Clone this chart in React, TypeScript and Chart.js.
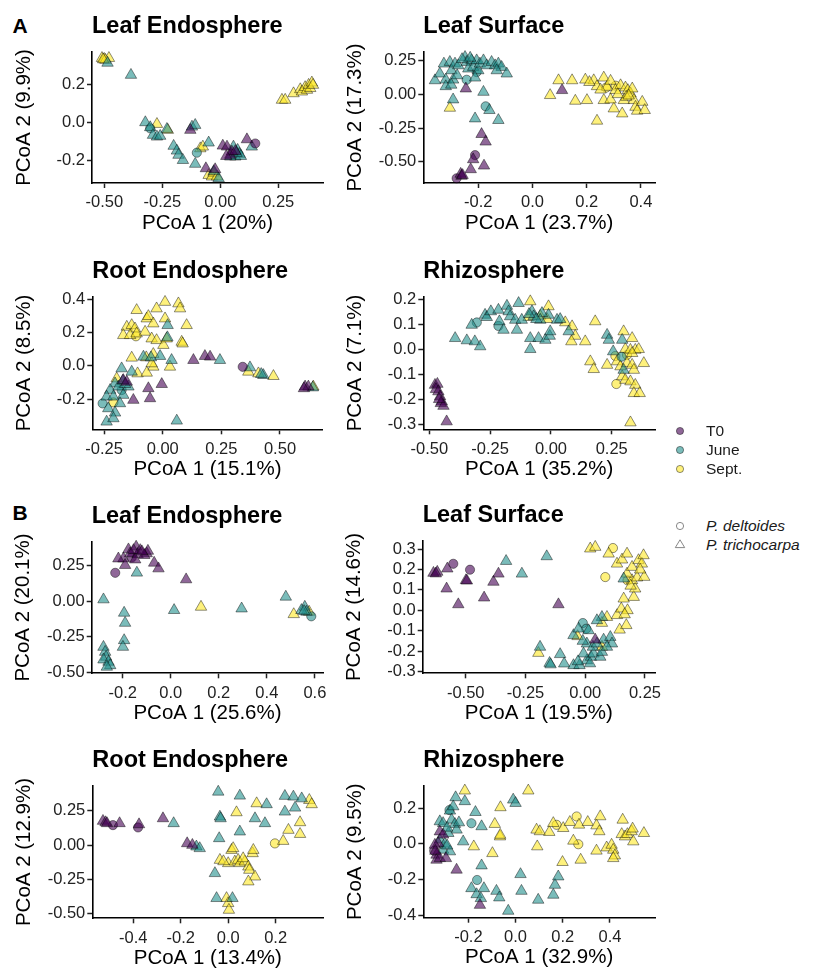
import React, { useEffect, useRef } from "react";
import { Chart, registerables } from "chart.js";

Chart.register(...registerables);

type Pt = [number, number];

// ---------- Group / shape labels ----------
const timeGroups = ["T0", "June", "Sept."];
const speciesGroups = ["P. deltoides", "P. trichocarpa"];

// ---------- A: Leaf Endosphere ----------
const aLE_T0_tri: Pt[] = [[-0.129,-0.04],[-0.062,-0.24],[-0.022,-0.245],[0.011,-0.122],[0.029,-0.127],[0.043,-0.17],[0.05,-0.153],[0.115,-0.089],[0.026,-0.176],[0.065,-0.15]];
const aLE_T0_cir: Pt[] = [[0.151,-0.11]];
const aLE_June_tri: Pt[] = [[-0.486,0.31],[-0.385,0.247],[-0.323,0.0],[-0.302,-0.026],[-0.29,-0.066],[-0.273,-0.075],[-0.259,-0.071],[-0.23,-0.035],[-0.122,-0.023],[-0.108,-0.014],[-0.201,-0.123],[-0.187,-0.148],[-0.18,-0.17],[-0.161,-0.197],[-0.05,-0.106],[-0.108,-0.217],[-0.007,-0.292],[0.057,-0.127],[0.075,-0.144],[0.083,-0.165],[0.065,-0.179],[0.043,-0.179],[0.136,-0.127],[0.089,-0.176],[0.07,-0.16],[-0.028,-0.255]];
const aLE_June_cir: Pt[] = [[-0.302,-0.031],[-0.101,-0.158]];
const aLE_Sept_tri: Pt[] = [[-0.51,0.335],[-0.5,0.33],[-0.48,0.335],[-0.495,0.325],[-0.505,0.328],[0.266,0.117],[0.28,0.117],[0.316,0.151],[0.345,0.172],[0.352,0.16],[0.366,0.183],[0.374,0.169],[0.381,0.195],[0.388,0.178],[0.395,0.207],[0.4,0.195],[-0.273,-0.009],[-0.226,-0.04],[-0.086,-0.136],[-0.075,-0.127],[-0.05,-0.275],[-0.036,-0.283],[-0.029,-0.263],[-0.014,-0.283]];
const aLE_Sept_cir: Pt[] = [];

// ---------- A: Leaf Surface ----------
const aLS_T0_tri: Pt[] = [[-0.246,0.042],[0.109,0.03],[-0.188,-0.296],[-0.173,-0.352],[-0.219,-0.483],[-0.228,-0.557],[-0.179,-0.53],[-0.265,-0.591],[-0.262,-0.606],[-0.258,-0.6]];
const aLS_T0_cir: Pt[] = [[-0.212,-0.451],[-0.28,-0.623]];
const aLS_June_tri: Pt[] = [[-0.36,0.103],[-0.342,0.153],[-0.327,0.227],[-0.32,0.108],[-0.305,0.239],[-0.299,0.177],[-0.293,0.108],[-0.286,0.227],[-0.32,0.059],[-0.278,0.14],[-0.274,0.214],[-0.249,0.276],[-0.243,0.239],[-0.237,0.19],[-0.225,0.251],[-0.219,0.202],[-0.206,0.251],[-0.2,0.177],[-0.194,0.227],[-0.181,0.251],[-0.169,0.214],[-0.151,0.239],[-0.138,0.214],[-0.126,0.227],[-0.114,0.202],[-0.095,0.153],[-0.212,0.123],[-0.132,0.177],[-0.181,0.017],[-0.293,-0.039],[-0.159,-0.118],[-0.212,-0.18],[-0.126,-0.192],[-0.3,0.07],[-0.26,0.26],[-0.23,0.27]];
const aLS_June_cir: Pt[] = [[-0.243,0.108],[-0.206,0.165],[-0.173,-0.089]];
const aLS_Sept_tri: Pt[] = [[-0.305,-0.101],[0.065,-0.007],[0.096,0.103],[0.146,0.103],[0.158,-0.049],[0.195,0.108],[0.201,-0.044],[0.226,0.103],[0.238,0.059],[0.238,-0.197],[0.263,0.123],[0.263,-0.044],[0.275,0.054],[0.288,0.099],[0.3,-0.106],[0.306,0.03],[0.325,0.066],[0.331,-0.143],[0.337,-0.044],[0.343,0.049],[0.352,0.03],[0.362,0.005],[0.368,0.042],[0.374,-0.044],[0.38,-0.094],[0.386,-0.123],[0.405,-0.057],[0.414,-0.118],[0.346,-0.02],[0.288,-0.039],[0.251,0.034],[0.21,0.09],[0.315,0.0],[0.355,-0.01]];
const aLS_Sept_cir: Pt[] = [[0.272,0.05],[0.307,0.064]];

// ---------- A: Root Endosphere ----------
const aRE_T0_tri: Pt[] = [[0.131,0.034],[0.18,0.058],[0.202,0.054],[0.607,-0.125],[0.621,-0.125],[0.602,-0.135],[-0.061,-0.135],[-0.054,-0.195],[-0.004,-0.11],[-0.125,-0.205],[-0.168,-0.086],[-0.153,-0.096]];
const aRE_T0_cir: Pt[] = [[0.341,-0.006]];
const aRE_June_tri: Pt[] = [[0.021,0.243],[-0.082,0.054],[-0.011,0.058],[0.038,0.034],[0.244,0.034],[0.372,-0.01],[0.429,-0.056],[0.42,-0.05],[-0.175,-0.016],[-0.132,-0.036],[-0.203,-0.106],[-0.189,-0.125],[-0.224,-0.145],[-0.239,-0.185],[-0.21,-0.185],[-0.232,-0.255],[-0.203,-0.281],[-0.239,-0.335],[-0.21,-0.315],[-0.168,-0.175],[0.06,-0.329],[-0.146,-0.125],[-0.182,-0.225],[-0.16,-0.11],[0.02,0.17],[-0.05,0.05],[0.64,-0.13],[-0.17,-0.09]];
const aRE_June_cir: Pt[] = [[-0.256,-0.225],[-0.175,-0.145]];
const aRE_Sept_tri: Pt[] = [[-0.111,0.333],[-0.068,0.283],[-0.061,0.297],[-0.026,0.343],[0.01,0.382],[0.067,0.373],[0.074,0.343],[0.01,0.283],[-0.04,0.253],[-0.153,0.233],[-0.132,0.243],[-0.118,0.223],[-0.168,0.183],[-0.139,0.183],[-0.111,0.193],[-0.075,0.203],[-0.047,0.163],[-0.026,0.153],[0.003,0.124],[0.017,0.163],[0.081,0.143],[0.102,0.243],[0.085,0.133],[-0.132,0.048],[-0.04,0.07],[-0.07,0.05],[-0.04,-0.006],[0.031,-0.006],[-0.047,0.014],[0.365,-0.036],[0.408,-0.046],[0.472,-0.062],[0.642,-0.125],[-0.196,-0.076],[-0.107,-0.046],[-0.068,-0.042]];
const aRE_Sept_cir: Pt[] = [[-0.114,0.177],[-0.21,-0.219]];

// ---------- A: Rhizosphere ----------
const aRH_T0_tri: Pt[] = [[-0.477,-0.143],[-0.467,-0.139],[-0.473,-0.16],[-0.463,-0.169],[-0.456,-0.189],[-0.449,-0.209],[-0.453,-0.216],[-0.442,-0.227],[-0.429,-0.289],[-0.46,-0.2]];
const aRH_T0_cir: Pt[] = [];
const aRH_June_tri: Pt[] = [[-0.394,0.044],[-0.346,0.035],[-0.326,0.097],[-0.313,0.031],[-0.291,0.011],[-0.271,0.137],[-0.264,0.128],[-0.247,0.151],[-0.216,0.157],[-0.212,0.111],[-0.195,0.077],[-0.181,0.173],[-0.174,0.151],[-0.168,0.131],[-0.147,0.117],[-0.14,0.077],[-0.133,0.184],[-0.12,0.117],[-0.085,0.044],[-0.085,0.0],[-0.051,0.044],[-0.023,0.037],[-0.005,0.053],[-0.003,0.071],[-0.01,0.137],[-0.037,0.144],[-0.078,0.151],[-0.071,0.131],[-0.044,0.117],[0.025,0.117],[0.038,0.12],[0.073,0.071],[0.231,0.057],[0.238,0.037],[0.256,-0.009],[0.293,0.037],[0.299,-0.083],[-0.06,0.12],[-0.09,0.14]];
const aRH_June_cir: Pt[] = [[-0.305,0.107],[-0.216,0.093],[0.29,-0.03]];
const aRH_Sept_tri: Pt[] = [[-0.085,0.191],[-0.092,0.128],[-0.044,0.133],[-0.01,0.171],[-0.016,0.12],[0.059,0.107],[0.087,0.091],[0.1,0.053],[0.084,0.031],[0.141,0.031],[0.182,0.111],[0.162,-0.049],[0.176,-0.08],[0.231,-0.063],[0.299,0.071],[0.334,0.044],[0.306,0.0],[0.327,-0.003],[0.347,-0.003],[0.361,0.0],[0.334,-0.016],[0.272,-0.049],[0.286,-0.069],[0.313,-0.056],[0.334,-0.063],[0.341,-0.083],[0.382,-0.056],[0.293,-0.109],[0.306,-0.123],[0.327,-0.129],[0.347,-0.143],[0.341,-0.176],[0.365,-0.176],[0.327,-0.293]];
const aRH_Sept_cir: Pt[] = [[0.265,-0.027],[0.313,-0.023],[0.269,-0.139]];

// ---------- B: Leaf Endosphere ----------
const bLE_T0_tri: Pt[] = [[-0.197,0.3],[-0.176,0.364],[-0.169,0.336],[-0.19,0.254],[-0.144,0.383],[-0.138,0.331],[-0.127,0.359],[-0.1,0.336],[-0.095,0.354],[-0.11,0.324],[-0.148,0.293],[-0.069,0.27],[-0.051,0.23],[0.064,0.153],[-0.218,0.3],[-0.155,0.359],[-0.12,0.35]];
const bLE_T0_cir: Pt[] = [[-0.231,0.2],[-0.162,0.308]];
const bLE_June_tri: Pt[] = [[-0.141,0.2],[-0.28,0.012],[-0.194,-0.082],[-0.19,-0.153],[-0.194,-0.275],[-0.199,-0.322],[-0.28,-0.322],[-0.273,-0.357],[-0.269,-0.392],[-0.28,-0.411],[-0.259,-0.427],[-0.252,-0.451],[-0.266,-0.462],[0.014,-0.063],[0.295,-0.052],[0.479,0.031],[0.558,-0.04],[0.565,-0.075],[0.544,-0.063],[0.555,-0.07]];
const bLE_June_cir: Pt[] = [[0.585,-0.106]];
const bLE_Sept_tri: Pt[] = [[0.126,-0.04],[0.512,-0.092],[0.576,-0.075]];
const bLE_Sept_cir: Pt[] = [];

// ---------- B: Leaf Surface ----------
const bLS_T0_tri: Pt[] = [[-0.635,0.183],[-0.619,0.188],[-0.625,0.18],[-0.577,0.204],[-0.58,0.106],[-0.499,0.147],[-0.495,0.145],[-0.531,0.029],[-0.423,0.062],[-0.384,0.139],[-0.363,0.179],[-0.112,0.029],[0.042,-0.144]];
const bLS_T0_cir: Pt[] = [[-0.552,0.228],[-0.482,0.199]];
const bLS_June_tri: Pt[] = [[-0.331,0.241],[-0.265,0.179],[-0.161,0.264],[-0.189,-0.179],[-0.105,-0.215],[-0.149,-0.258],[-0.145,-0.265],[-0.088,-0.261],[-0.049,-0.269],[-0.024,-0.269],[0.007,-0.245],[0.024,-0.228],[-0.007,-0.212],[0.035,-0.212],[0.063,-0.228],[0.07,-0.204],[0.007,-0.163],[0.032,-0.179],[0.049,-0.163],[0.077,-0.144],[0.105,-0.131],[0.112,-0.163],[0.091,-0.179],[0.07,-0.033],[-0.049,-0.122],[-0.028,-0.09],[0.014,-0.098],[0.049,-0.049],[0.161,0.155],[-0.01,-0.15],[0.02,-0.26],[-0.03,-0.25]];
const bLS_June_cir: Pt[] = [[-0.01,-0.062],[0.004,-0.09]];
const bLS_Sept_tri: Pt[] = [[-0.196,-0.209],[-0.032,-0.127],[0.07,-0.062],[0.07,-0.179],[0.091,-0.033],[0.133,-0.024],[0.144,-0.095],[0.172,-0.073],[0.151,0.008],[0.177,0.0],[0.161,0.057],[0.203,0.065],[0.209,0.106],[0.196,0.147],[0.217,0.16],[0.247,0.163],[0.175,0.179],[0.196,0.212],[0.133,0.228],[0.154,0.248],[0.175,0.277],[0.098,0.277],[0.223,0.245],[0.237,0.228],[0.244,0.269],[0.021,0.302],[0.042,0.31],[0.23,0.199],[0.19,0.12],[0.165,-0.02]];
const bLS_Sept_cir: Pt[] = [[0.116,0.305],[0.084,0.163],[0.177,0.147]];

// ---------- B: Root Endosphere ----------
const bRE_T0_tri: Pt[] = [[-0.528,0.176],[-0.517,0.166],[-0.511,0.159],[-0.458,0.159],[-0.376,0.151],[-0.275,0.195],[-0.173,0.012],[-0.151,0.0]];
const bRE_T0_cir: Pt[] = [[-0.486,0.146],[-0.38,0.129]];
const bRE_June_tri: Pt[] = [[-0.23,0.159],[-0.134,-0.012],[-0.12,-0.024],[-0.042,0.39],[-0.035,0.207],[-0.032,0.195],[-0.038,0.049],[-0.056,-0.207],[-0.049,-0.39],[0.018,-0.39],[0.049,0.098],[0.049,0.361],[0.113,0.195],[0.155,0.159],[0.162,0.298],[0.239,0.359],[0.239,0.244],[0.275,0.354],[0.282,0.273],[0.31,0.341]];
const bRE_June_cir: Pt[] = [];
const bRE_Sept_tri: Pt[] = [[0.035,0.239],[0.12,0.305],[0.014,-0.037],[0.021,-0.024],[-0.035,-0.11],[0.0,-0.134],[0.028,-0.122],[0.042,-0.11],[0.049,-0.134],[0.07,-0.122],[0.063,-0.098],[0.085,-0.159],[0.103,-0.061],[0.106,-0.037],[0.089,-0.183],[0.113,-0.232],[0.085,-0.268],[-0.007,-0.39],[0.0,-0.427],[0.003,-0.476],[0.232,0.029],[0.254,0.11],[0.303,0.166],[0.303,0.08],[0.342,0.329],[0.352,0.298],[-0.02,-0.12]];
const bRE_Sept_cir: Pt[] = [[0.197,0.012]];

// ---------- B: Rhizosphere ----------
const bRH_T0_tri: Pt[] = [[-0.335,-0.062],[-0.328,0.004],[-0.342,-0.006],[-0.335,-0.09],[-0.321,-0.081],[-0.321,0.069],[-0.307,0.051],[-0.295,-0.081],[-0.25,-0.146],[-0.151,-0.344],[-0.34,-0.04]];
const bRH_T0_cir: Pt[] = [[-0.345,-0.039]];
const bRH_June_tri: Pt[] = [[-0.278,0.186],[-0.254,0.261],[-0.264,0.21],[-0.215,0.239],[-0.321,0.126],[-0.307,0.116],[-0.271,0.135],[-0.257,0.111],[-0.25,0.079],[-0.285,0.06],[-0.321,0.023],[-0.307,-0.034],[-0.278,-0.043],[-0.17,0.178],[-0.144,0.098],[-0.222,0.013],[-0.144,-0.122],[-0.187,-0.25],[-0.165,-0.284],[-0.147,-0.306],[-0.134,-0.25],[-0.081,-0.265],[-0.069,-0.302],[-0.031,-0.377],[-0.01,0.248],[0.0,0.229],[0.021,-0.171],[0.025,-0.265],[0.096,-0.315],[0.16,-0.287],[0.167,-0.231],[0.181,-0.184],[-0.29,0.09],[-0.3,0.0],[-0.24,0.12],[-0.29,-0.01]];
const bRH_June_cir: Pt[] = [[-0.28,0.19],[-0.187,0.116],[-0.163,-0.203]];
const bRH_Sept_tri: Pt[] = [[-0.215,0.299],[-0.177,-0.015],[-0.088,0.111],[-0.064,0.205],[-0.066,0.041],[-0.098,-0.053],[0.054,0.299],[0.089,0.079],[0.092,-0.015],[0.103,0.07],[0.143,0.066],[0.16,0.116],[0.202,0.088],[0.199,-0.103],[0.23,0.122],[0.269,0.107],[0.245,0.017],[0.276,-0.09],[0.306,0.122],[0.343,0.103],[0.359,0.154],[0.355,0.07],[0.343,-0.039],[0.386,-0.021],[0.407,-0.006],[0.414,-0.034],[0.421,-0.066],[0.414,-0.081],[0.454,0.135],[0.45,0.054],[0.464,0.041],[0.474,0.054],[0.492,0.07],[0.496,0.085],[0.499,0.013],[0.544,0.06],[-0.065,0.05]];
const bRH_Sept_cir: Pt[] = [[0.174,0.107],[0.259,0.154],[0.266,-0.002]];

// ---------- Axis ticks ----------
const aLE_xTicks = [-0.5, -0.25, 0, 0.25];
const aLE_yTicks = [-0.2, 0, 0.2];
const aLS_xTicks = [-0.2, 0, 0.2, 0.4];
const aLS_yTicks = [-0.5, -0.25, 0, 0.25];
const aRE_xTicks = [-0.25, 0, 0.25, 0.5];
const aRE_yTicks = [-0.2, 0, 0.2, 0.4];
const aRH_xTicks = [-0.5, -0.25, 0, 0.25];
const aRH_yTicks = [-0.3, -0.2, -0.1, 0, 0.1, 0.2];
const bLE_xTicks = [-0.2, 0, 0.2, 0.4, 0.6];
const bLE_yTicks = [-0.5, -0.25, 0, 0.25];
const bLS_xTicks = [-0.5, -0.25, 0, 0.25];
const bLS_yTicks = [-0.3, -0.2, -0.1, 0, 0.1, 0.2, 0.3];
const bRE_xTicks = [-0.4, -0.2, 0, 0.2];
const bRE_yTicks = [-0.5, -0.25, 0, 0.25];
const bRH_xTicks = [-0.2, 0, 0.2, 0.4];
const bRH_yTicks = [-0.4, -0.2, 0, 0.2];

// ---------- Styling ----------
const FONT = '"Liberation Sans", Arial, Helvetica, sans-serif';
const FILLS = ["rgba(68,1,84,0.6)", "rgba(33,144,140,0.6)", "rgba(253,231,37,0.6)"];
const STROKE = "rgba(0,0,0,0.55)";
const TICK_TEXT = "#222";

type Series = { g: number; shape: "circle" | "triangle"; pts: Pt[] };
type PanelDef = {
  title: string; xTitle: string; yTitle: string;
  xr: [number, number]; yr: [number, number];
  xTicks: number[]; yTicks: number[]; xDec: number; yDec: number;
  series: Series[];
  box: { l: number; t: number; r: number; b: number };
};

const mk = (t0t: Pt[], t0c: Pt[], jt: Pt[], jc: Pt[], st: Pt[], sc: Pt[]): Series[] => [
  { g: 0, shape: "triangle", pts: t0t }, { g: 0, shape: "circle", pts: t0c },
  { g: 1, shape: "triangle", pts: jt }, { g: 1, shape: "circle", pts: jc },
  { g: 2, shape: "triangle", pts: st }, { g: 2, shape: "circle", pts: sc },
];

const panels: PanelDef[] = [
  { title: "Leaf Endosphere", xTitle: "PCoA 1 (20%)", yTitle: "PCoA 2 (9.9%)", xr: [-0.553, 0.443], yr: [-0.316, 0.367], xTicks: aLE_xTicks, yTicks: aLE_yTicks, xDec: 2, yDec: 1,
    series: mk(aLE_T0_tri, aLE_T0_cir, aLE_June_tri, aLE_June_cir, aLE_Sept_tri, aLE_Sept_cir), box: { l: 92, t: 52, r: 323, b: 183 } },
  { title: "Leaf Surface", xTitle: "PCoA 1 (23.7%)", yTitle: "PCoA 2 (17.3%)", xr: [-0.403, 0.452], yr: [-0.658, 0.314], xTicks: aLS_xTicks, yTicks: aLS_yTicks, xDec: 1, yDec: 2,
    series: mk(aLS_T0_tri, aLS_T0_cir, aLS_June_tri, aLS_June_cir, aLS_Sept_tri, aLS_Sept_cir), box: { l: 423.3, t: 52, r: 655, b: 183 } },
  { title: "Root Endosphere", xTitle: "PCoA 1 (15.1%)", yTitle: "PCoA 2 (8.5%)", xr: [-0.3, 0.682], yr: [-0.38, 0.414], xTicks: aRE_xTicks, yTicks: aRE_yTicks, xDec: 2, yDec: 1,
    series: mk(aRE_T0_tri, aRE_T0_cir, aRE_June_tri, aRE_June_cir, aRE_Sept_tri, aRE_Sept_cir), box: { l: 92.3, t: 296.7, r: 322.7, b: 429.3 } },
  { title: "Rhizosphere", xTitle: "PCoA 1 (35.2%)", yTitle: "PCoA 2 (7.1%)", xr: [-0.525, 0.428], yr: [-0.32, 0.21], xTicks: aRH_xTicks, yTicks: aRH_yTicks, xDec: 2, yDec: 1,
    series: mk(aRH_T0_tri, aRH_T0_cir, aRH_June_tri, aRH_June_cir, aRH_Sept_tri, aRH_Sept_cir), box: { l: 423.3, t: 296.7, r: 655, b: 429.3 } },
  { title: "Leaf Endosphere", xTitle: "PCoA 1 (25.6%)", yTitle: "PCoA 2 (20.1%)", xr: [-0.329, 0.635], yr: [-0.507, 0.419], xTicks: bLE_xTicks, yTicks: bLE_yTicks, xDec: 1, yDec: 2,
    series: mk(bLE_T0_tri, bLE_T0_cir, bLE_June_tri, bLE_June_cir, bLE_Sept_tri, bLE_Sept_cir), box: { l: 91.7, t: 541.7, r: 323.3, b: 673.3 } },
  { title: "Leaf Surface", xTitle: "PCoA 1 (19.5%)", yTitle: "PCoA 2 (14.6%)", xr: [-0.68, 0.292], yr: [-0.308, 0.341], xTicks: bLS_xTicks, yTicks: bLS_yTicks, xDec: 2, yDec: 1,
    series: mk(bLS_T0_tri, bLS_T0_cir, bLS_June_tri, bLS_June_cir, bLS_Sept_tri, bLS_Sept_cir), box: { l: 422.7, t: 540.7, r: 655, b: 673.3 } },
  { title: "Root Endosphere", xTitle: "PCoA 1 (13.4%)", yTitle: "PCoA 2 (12.9%)", xr: [-0.573, 0.401], yr: [-0.537, 0.435], xTicks: bRE_xTicks, yTicks: bRE_yTicks, xDec: 1, yDec: 2,
    series: mk(bRE_T0_tri, bRE_T0_cir, bRE_June_tri, bRE_June_cir, bRE_Sept_tri, bRE_Sept_cir), box: { l: 92.3, t: 785.7, r: 323.3, b: 918.3 } },
  { title: "Rhizosphere", xTitle: "PCoA 1 (32.9%)", yTitle: "PCoA 2 (9.5%)", xr: [-0.391, 0.591], yr: [-0.415, 0.327], xTicks: bRH_xTicks, yTicks: bRH_yTicks, xDec: 1, yDec: 1,
    series: mk(bRH_T0_tri, bRH_T0_cir, bRH_June_tri, bRH_June_cir, bRH_Sept_tri, bRH_Sept_cir), box: { l: 423.3, t: 785.7, r: 655, b: 917.7 } },
];

const Y_W = 92;
const X_H = 53;
const TOP_H = 39.1;
const RIGHT_EXTRA = 10;

function Panel({ def }: { def: PanelDef }) {
  const ref = useRef<HTMLCanvasElement>(null);
  const cl = Math.floor(def.box.l - Y_W);
  const ct = Math.floor(def.box.t - TOP_H);
  const padL = def.box.l - Y_W - cl;
  const padT = def.box.t - TOP_H - ct;
  const w = Math.ceil(def.box.r + RIGHT_EXTRA - cl);
  const h = Math.ceil(def.box.b + X_H - ct);
  const padR = w - (def.box.r - cl);
  const padB = h - (def.box.b + X_H - ct);

  useEffect(() => {
    if (!ref.current) return;
    const datasets = def.series
      .filter((s) => s.pts.length > 0)
      .map((s) => ({
        label: `${timeGroups[s.g]} ${s.shape === "circle" ? speciesGroups[0] : speciesGroups[1]}`,
        data: s.pts.map(([x, y]) => ({ x, y })),
        pointStyle: s.shape,
        pointRadius: s.shape === "circle" ? 4.6 : 6.6,
        backgroundColor: FILLS[s.g],
        borderColor: STROKE,
        borderWidth: 0.8,
        showLine: false,
        clip: false as any,
      }));
    const chart = new Chart(ref.current, {
      type: "scatter",
      data: { datasets },
      options: {
        responsive: false,
        animation: false,
        devicePixelRatio: 1,
        events: [],
        layout: { padding: { left: padL, top: padT, right: padR, bottom: padB } },
        plugins: {
          legend: { display: false },
          tooltip: { enabled: false },
          title: {
            display: true,
            text: def.title,
            align: "start",
            position: "top",
            fullSize: false,
            color: "#000",
            font: { family: FONT, size: 23.5, weight: "bold", lineHeight: 1.2 },
            padding: { top: 0, bottom: 10.9 },
          },
        },
        scales: {
          x: {
            type: "linear",
            position: "bottom",
            min: def.xr[0],
            max: def.xr[1],
            afterBuildTicks: (s: any) => { s.ticks = def.xTicks.map((v) => ({ value: v })); },
            afterFit: (s: any) => { s.height = X_H; s.paddingLeft = 0; s.paddingRight = 0; },
            ticks: {
              callback: (v: any) => Number(v).toFixed(def.xDec),
              color: TICK_TEXT,
              font: { family: FONT, size: 16.5 },
              padding: 5,
              autoSkip: false,
              maxRotation: 0,
              minRotation: 0,
            },
            grid: { display: true, drawOnChartArea: false, drawTicks: true, tickLength: 5, tickColor: "#222", tickWidth: 1.5 },
            border: { display: true, color: "#000", width: 1.6 },
            title: { display: true, text: def.xTitle, color: "#000", font: { family: FONT, size: 20.5 }, padding: { top: 0, bottom: 0.7 } },
          },
          y: {
            type: "linear",
            position: "left",
            min: def.yr[0],
            max: def.yr[1],
            afterBuildTicks: (s: any) => { s.ticks = def.yTicks.map((v) => ({ value: v })); },
            afterFit: (s: any) => { s.width = Y_W; s.paddingTop = 0; s.paddingBottom = 0; },
            ticks: {
              callback: (v: any) => Number(v).toFixed(def.yDec),
              color: TICK_TEXT,
              font: { family: FONT, size: 16.5 },
              padding: 2,
              autoSkip: false,
            },
            grid: { display: true, drawOnChartArea: false, drawTicks: true, tickLength: 5, tickColor: "#222", tickWidth: 1.5 },
            border: { display: true, color: "#000", width: 1.6 },
            title: { display: true, text: def.yTitle, color: "#000", font: { family: FONT, size: 20.5 }, padding: { top: 11.7, bottom: 0 } },
          },
        },
      } as any,
    });
    return () => chart.destroy();
  }, [def]);

  return (
    <canvas
      ref={ref}
      width={w}
      height={h}
      style={{ position: "absolute", left: cl, top: ct, width: w, height: h }}
    />
  );
}

const legendTime = [
  { label: timeGroups[0], fill: FILLS[0], cy: 430.7 },
  { label: timeGroups[1], fill: FILLS[1], cy: 450 },
  { label: timeGroups[2], fill: FILLS[2], cy: 469.3 },
];
const legendShape = [
  { label: speciesGroups[0], shape: "circle", cy: 526 },
  { label: speciesGroups[1], shape: "triangle", cy: 545 },
];

export default function App() {
  const textStyle = (cy: number, italic: boolean): React.CSSProperties => ({
    position: "absolute",
    left: 706,
    top: cy - 8.85,
    fontSize: 15.5,
    lineHeight: "18px",
    fontStyle: italic ? "italic" : "normal",
    color: "#1a1a1a",
    whiteSpace: "nowrap",
  });
  return (
    <div style={{ position: "fixed", left: 0, top: 0, width: 814, height: 971, overflow: "hidden", background: "#fff", fontFamily: FONT }}>
      <div style={{ position: "absolute", left: 12.5, top: 15, fontSize: 21, fontWeight: "bold", lineHeight: "21px", color: "#000" }}>A</div>
      <div style={{ position: "absolute", left: 12.5, top: 502.3, fontSize: 21, fontWeight: "bold", lineHeight: "21px", color: "#000" }}>B</div>
      {panels.map((p, i) => (
        <Panel key={i} def={p} />
      ))}
      {legendTime.map((it) => (
        <React.Fragment key={it.label}>
          <svg style={{ position: "absolute", left: 674, top: it.cy - 6 }} width={12} height={12}>
            <circle cx={6} cy={6} r={3.6} fill={it.fill} stroke={STROKE} strokeWidth={0.8} />
          </svg>
          <div style={textStyle(it.cy, false)}>{it.label}</div>
        </React.Fragment>
      ))}
      {legendShape.map((it) => (
        <React.Fragment key={it.label}>
          <svg style={{ position: "absolute", left: 674, top: it.cy - 6 }} width={12} height={12}>
            {it.shape === "circle" ? (
              <circle cx={6} cy={6} r={3.6} fill="none" stroke="#7a7a7a" strokeWidth={0.9} />
            ) : (
              <polygon points="6,0.8 10.7,8.6 1.3,8.6" fill="none" stroke="#7a7a7a" strokeWidth={0.9} />
            )}
          </svg>
          <div style={textStyle(it.cy, true)}>{it.label}</div>
        </React.Fragment>
      ))}
    </div>
  );
}
